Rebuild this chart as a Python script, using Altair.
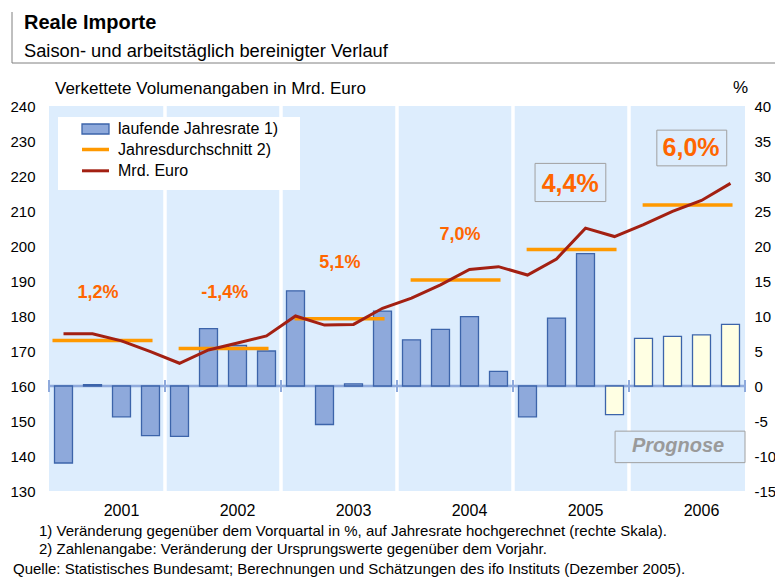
import altair as alt
import pandas as pd

# ---------------- data ----------------
years = [2001, 2002, 2003, 2004, 2005, 2006]
# laufende Jahresrate (% , right scale), quarterly
quarter_rate = [-11.0, 0.2, -4.4, -7.1,
                -7.2, 8.2, 5.8, 5.0,
                13.6, -5.5, 0.3, 10.7,
                6.6, 8.1, 9.9, 2.1,
                -4.4, 9.7, 18.9, -4.1,
                6.8, 7.1, 7.3, 8.8]
forecast = [False] * 19 + [True] * 5
# Mrd. Euro (left scale), quarterly
mrd_euro = [174.9, 174.9, 172.9, 169.8,
            166.5, 170.3, 172.3, 174.3,
            180.0, 177.4, 177.6, 182.2,
            185.1, 188.9, 193.3, 194.1,
            191.7, 196.3, 205.1, 202.7,
            206.1, 209.9, 213.0, 217.9]
# Jahresdurchschnitt (Mrd. Euro)
annual_avg = [173.0, 170.7, 179.2, 190.3, 199.0, 211.7]
annual_label = ["1,2%", "-1,4%", "5,1%", "7,0%", "4,4%", "6,0%"]
left_ticks = list(range(130, 250, 10))
right_ticks = list(range(-15, 45, 5))

# ---------------- styling ----------------
FONT = "Liberation Sans"
PANEL = "#DDEDFD"
BAR_BLUE = "#8EA9DB"
BAR_EDGE = "#3C64AA"
FC_YELLOW = "#FFFFE3"
ZERO_LINE = "#8FAADC"
RED = "#A32012"
ORANGE = "#FF9900"
LABEL_OR = "#FF6600"

W, H = 696, 385

xs = alt.Scale(domain=[0, 24], nice=False, zero=False)
ys_m = alt.Scale(domain=[130, 240], nice=False, zero=False)
ys_p = alt.Scale(domain=[-15, 40], nice=False, zero=False)

# ---------------- tables ----------------
n = len(quarter_rate)
q = pd.DataFrame({
    "i": list(range(n)),
    "pct": quarter_rate,
    "mrd": mrd_euro,
    "kind": ["Prognose" if f else "Ist" for f in forecast],
})
q["xc"] = q["i"] + 0.5
q["x0"] = q["i"] + 0.19
q["x1"] = q["i"] + 0.81
q["base"] = 0.0

gap = 0.06
yr = pd.DataFrame({"k": list(range(len(years))), "year": [str(y) for y in years],
                   "avg": annual_avg, "label": annual_label})
yr["p0"] = [0.0 if k == 0 else k * 4 + gap for k in yr["k"]]
yr["p1"] = [24.0 if k == len(years) - 1 else (k + 1) * 4 - gap for k in yr["k"]]
yr["a0"] = [k * 4 + (0.12 if k == 0 else 0.47) for k in yr["k"]]
yr["a1"] = yr["k"] * 4 + 3.57
yr["xl"] = yr["k"] * 4 + 2.5

# annotation placement for the percentage labels (quarter units / Mrd. Euro)
lab = yr[["label"]].copy()
lab["lx"] = [1.69, 6.06, 10.03, 14.17, 17.97, 22.14]
lab["ly"] = [186.7, 186.7, 195.2, 203.1, 217.6, 227.9]
lab_small = lab.iloc[:4]
lab_big = lab.iloc[4:]

boxes = pd.DataFrame({"x0": [16.76, 20.96], "x1": [19.2, 23.37],
                      "y0": [212.7, 222.9], "y1": [223.6, 233.1]})

bounds = pd.DataFrame({"b": [0, 4, 8, 12, 16, 20, 24]})
bounds["lo"] = -6 / 7
bounds["hi"] = 6 / 7
zero = pd.DataFrame({"x0": [0], "x1": [24], "y": [0]})
one = pd.DataFrame({"a": [0]})

AX = dict(title=None, grid=False, domain=False, ticks=False, tickSize=0,
          labelFont=FONT, labelColor="black", labelFlush=False,
          labelOverlap=False, labelBound=False, labelExpr="'' + datum.value")

# ---------------- layers ----------------
panels = alt.Chart(yr).mark_rect(color=PANEL).encode(
    x=alt.X("p0:Q", scale=xs, axis=None), x2="p1:Q",
    y=alt.value(0), y2=alt.value(H))

zero_rule = alt.Chart(zero).mark_rule(color=ZERO_LINE, strokeWidth=2.5).encode(
    x=alt.X("x0:Q", scale=xs, axis=None), x2="x1:Q",
    y=alt.Y("y:Q", scale=ys_p, axis=None))
zero_ticks = alt.Chart(bounds).mark_rule(color=ZERO_LINE, strokeWidth=2).encode(
    x=alt.X("b:Q", scale=xs, axis=None),
    y=alt.Y("lo:Q", scale=ys_p, axis=None), y2="hi:Q")
bars = alt.Chart(q).mark_rect(stroke=BAR_EDGE, strokeWidth=1.3).encode(
    x=alt.X("x0:Q", scale=xs, axis=None), x2="x1:Q",
    y=alt.Y("pct:Q", scale=ys_p,
            axis=alt.Axis(orient="right", values=right_ticks, labelPadding=9,
                          labelFontSize=15, **AX)),
    y2="base:Q",
    fill=alt.Fill("kind:N", scale=alt.Scale(domain=["Ist", "Prognose"],
                                             range=[BAR_BLUE, FC_YELLOW]), legend=None))

avg = alt.Chart(yr).mark_rule(color=ORANGE, strokeWidth=3.5).encode(
    x=alt.X("a0:Q", scale=xs, axis=None), x2="a1:Q",
    y=alt.Y("avg:Q", scale=ys_m, axis=None))
line = alt.Chart(q).mark_line(color=RED, strokeWidth=3).encode(
    x=alt.X("xc:Q", scale=xs, axis=None),
    y=alt.Y("mrd:Q", scale=ys_m,
            axis=alt.Axis(orient="left", values=left_ticks, labelPadding=14,
                          labelFontSize=15, **AX)))
box_rect = alt.Chart(boxes).mark_rect(fill=PANEL, stroke="#A0A0A0", strokeWidth=1).encode(
    x=alt.X("x0:Q", scale=xs, axis=None), x2="x1:Q",
    y=alt.Y("y0:Q", scale=ys_m, axis=None), y2="y1:Q")
prog_box = alt.Chart(pd.DataFrame({"x0": [19.52], "x1": [24.0], "y0": [138.1], "y1": [147.1]})).mark_rect(
    fill=PANEL, stroke="#A0A0A0", strokeWidth=1).encode(
    x=alt.X("x0:Q", scale=xs, axis=None), x2="x1:Q",
    y=alt.Y("y0:Q", scale=ys_m, axis=None), y2="y1:Q")
prog_txt = alt.Chart(pd.DataFrame({"x": [21.69], "y": [142.9], "t": ["Prognose"]})).mark_text(
    font=FONT, fontSize=20, fontWeight="bold", fontStyle="italic", color="#9A9A9A",
    align="center", baseline="middle").encode(
    x=alt.X("x:Q", scale=xs, axis=None), y=alt.Y("y:Q", scale=ys_m, axis=None), text="t:N")
lab_s = alt.Chart(lab_small).mark_text(font=FONT, fontSize=18, fontWeight="bold", color=LABEL_OR,
                                       align="center", baseline="middle").encode(
    x=alt.X("lx:Q", scale=xs, axis=None), y=alt.Y("ly:Q", scale=ys_m, axis=None), text="label:N")
lab_b = alt.Chart(lab_big).mark_text(font=FONT, fontSize=25, fontWeight="bold", color=LABEL_OR,
                                     align="center", baseline="middle").encode(
    x=alt.X("lx:Q", scale=xs, axis=None), y=alt.Y("ly:Q", scale=ys_m, axis=None), text="label:N")

year_txt = alt.Chart(yr).mark_text(font=FONT, fontSize=16, color="black",
                                   align="center", baseline="middle").encode(
    x=alt.X("xl:Q", scale=xs, axis=None), y=alt.value(404.5), text="year:N")


def txt(s, x, y, size, weight="normal", align="left", baseline="middle", color="black"):
    return alt.Chart(one).mark_text(text=s, font=FONT, fontSize=size, fontWeight=weight,
                                    align=align, baseline=baseline, color=color).encode(
        x=alt.value(x), y=alt.value(y))


def rect(x, x2, y, y2, **kw):
    return alt.Chart(one).mark_rect(**kw).encode(
        x=alt.value(x), x2=alt.value(x2), y=alt.value(y), y2=alt.value(y2))


def hline(x, x2, y, color, width):
    return alt.Chart(one).mark_rule(color=color, strokeWidth=width).encode(
        x=alt.value(x), x2=alt.value(x2), y=alt.value(y))


legend = [
    rect(9, 251, 11, 84, fill="white"),
    rect(33, 60, 18, 28, fill=BAR_BLUE, stroke=BAR_EDGE, strokeWidth=1.3),
    hline(33, 60, 43.5, ORANGE, 3.5),
    hline(33, 60, 64.8, RED, 3),
    txt("laufende Jahresrate 1)", 69, 23, 16),
    txt("Jahresdurchschnitt 2)", 69, 44, 16),
    txt("Mrd. Euro", 69, 65, 16),
]

header = [
    alt.Chart(one).mark_rule(color="#808080", strokeWidth=1).encode(
        x=alt.value(-37), y=alt.value(-94), y2=alt.value(-43)),
    hline(-37, 726, -43, "#808080", 1),
    txt("Reale Importe", -25, -77, 20, weight="bold", baseline="alphabetic"),
    txt("Saison- und arbeitstäglich bereinigter Verlauf", -25, -49, 18.3, baseline="alphabetic"),
    txt("Verkettete Volumenangaben in Mrd. Euro", 6, -17, 17),
    txt("%", 684, -18, 17),
    txt("1) Veränderung gegenüber dem Vorquartal in %, auf Jahresrate hochgerechnet (rechte Skala).",
        -10, 425, 15),
    txt("2) Zahlenangabe: Veränderung der Ursprungswerte gegenüber dem Vorjahr.", -10, 443, 15),
    txt("Quelle: Statistisches Bundesamt; Berechnungen und Schätzungen des ifo Instituts (Dezember 2005).",
        -36, 463, 15),
]

layers = [panels, zero_rule, zero_ticks, bars, avg, line, box_rect, lab_s, lab_b,
          prog_box, prog_txt, year_txt] + legend + header

chart = alt.layer(*layers).resolve_scale(y="independent").properties(
    width=W, height=H,
    padding={"left": 41, "top": 98, "right": 30, "bottom": 86},
    autosize=alt.AutoSizeParams(type="none"),
    background="white",
).configure_view(stroke=None)

chart.save("out.html", embed_options={"renderer": "svg", "actions": False})
